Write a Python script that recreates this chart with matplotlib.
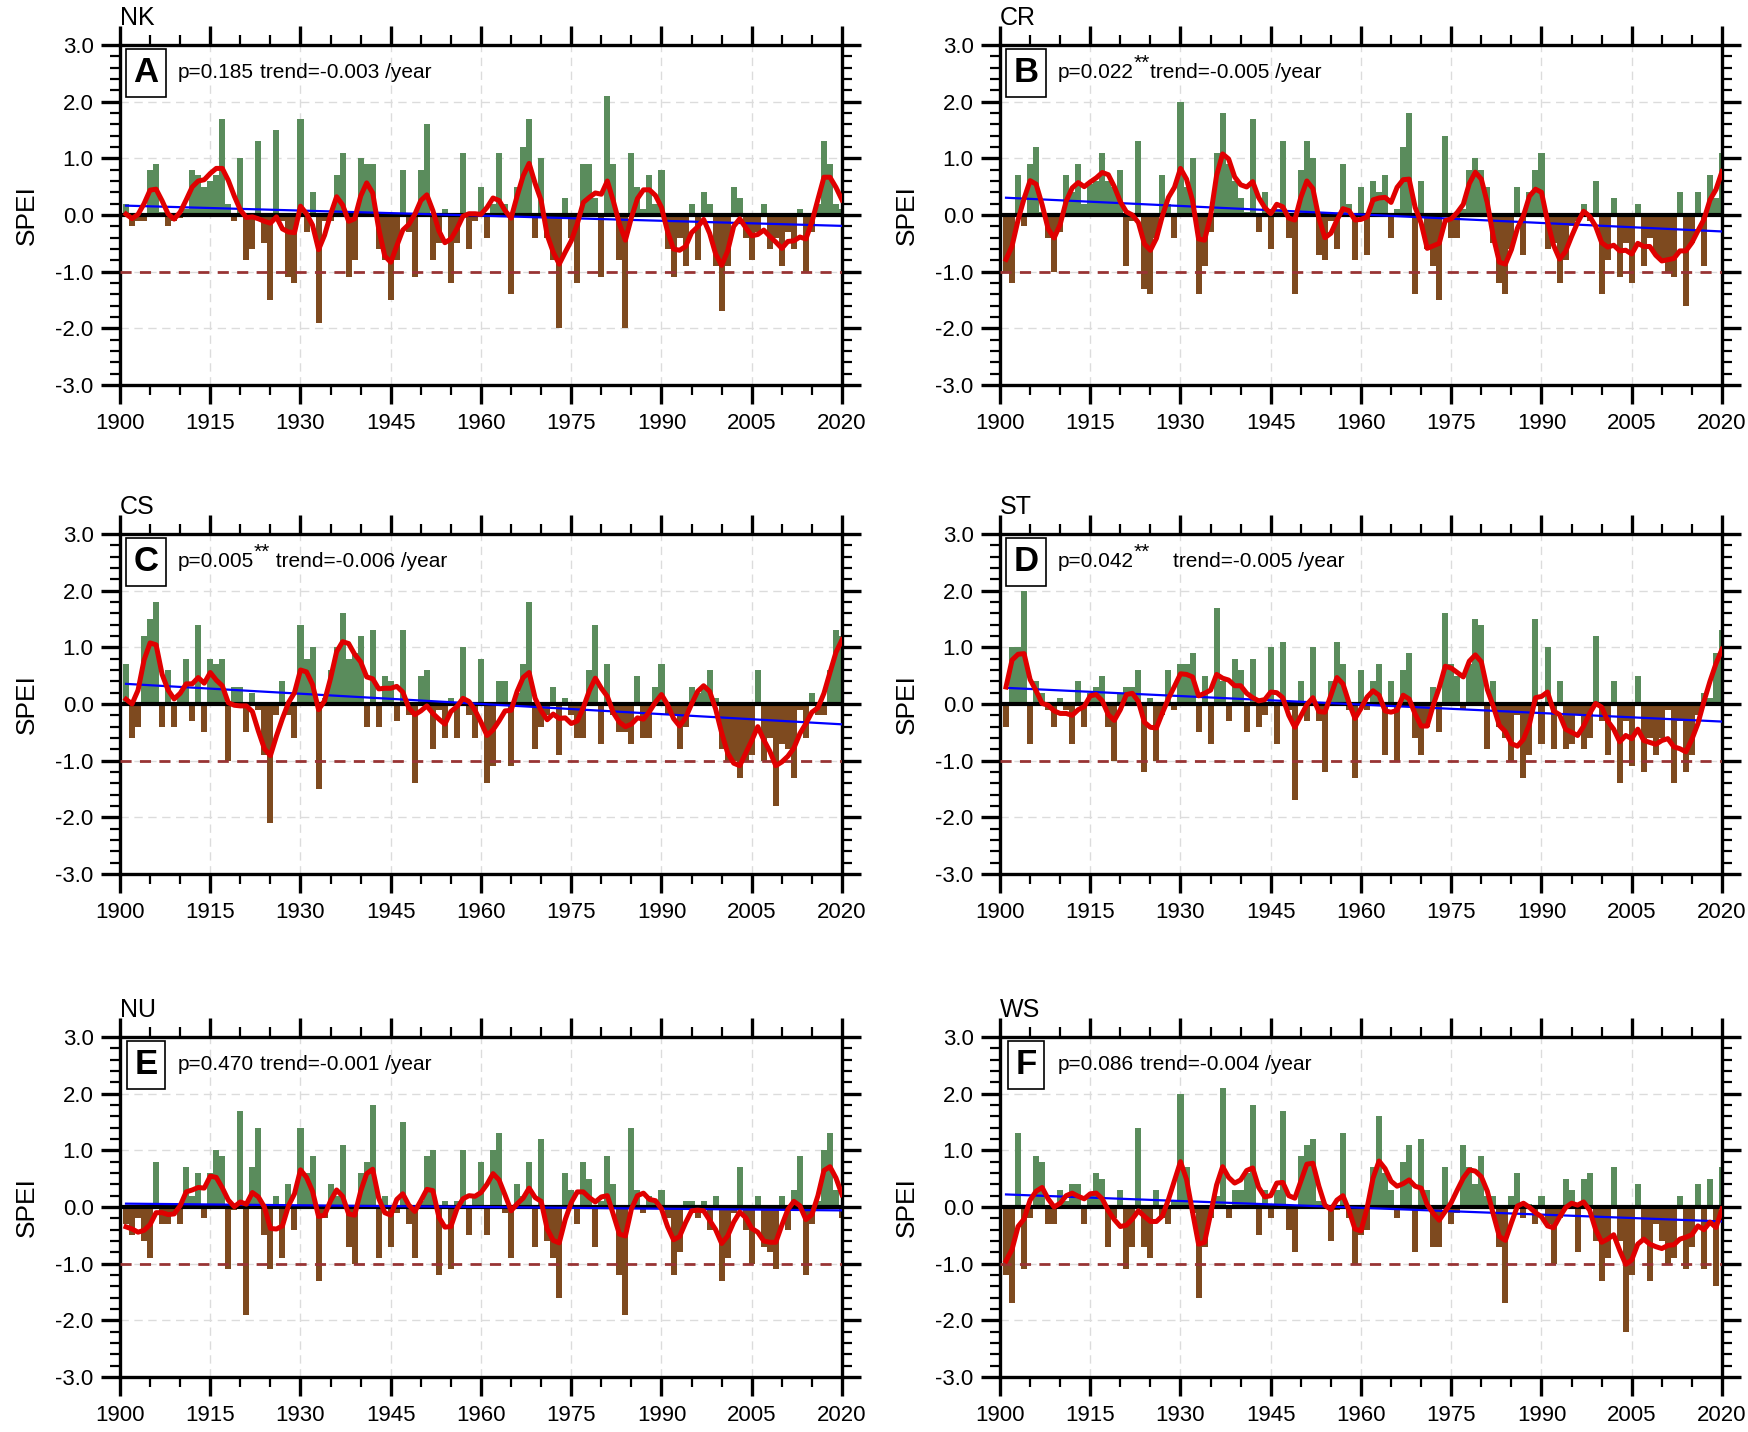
import numpy as np
import matplotlib
matplotlib.use("Agg")
import matplotlib.pyplot as plt
from matplotlib.ticker import FixedLocator, MultipleLocator, FormatStrFormatter

plt.rcParams['font.family'] = ['Liberation Sans', 'DejaVu Sans']

## data, one value per year 1901-2020
years = np.arange(1901, 2021)

spei_nk = [0.2, -0.2, -0.1, -0.1, 0.8, 0.9, 0.05, -0.2, -0.1, -0.05,
           0.1, 0.8, 0.7, 0.5, 0.6, 0.7, 1.7, 0.2, -0.1, 1.0,
           -0.8, -0.6, 1.3, -0.5, -1.5, 1.5, -0.1, -1.1, -1.2, 1.7,
           -0.3, 0.4, -1.9, -0.1, -0.1, 0.7, 1.1, -1.1, -0.8, 1.0,
           0.9, 0.9, -0.6, -0.8, -1.5, -0.8, 0.8, -0.3, -1.1, 0.8,
           1.6, -0.8, -0.5, 0.1, -1.2, -0.5, 1.1, -0.6, -0.1, 0.5,
           -0.4, 0.2, 1.1, 0.2, -1.4, 0.5, 1.2, 1.7, -0.4, 1.0,
           -0.4, -0.8, -2.0, 0.3, -0.4, -1.2, 0.9, 0.9, 0.3, -1.1,
           2.1, 0.9, -0.8, -2.0, 1.1, 0.5, 0.1, 0.7, 0.2, 0.8,
           -0.6, -1.1, -0.4, -0.9, 0.2, -0.8, 0.4, 0.2, -0.9, -1.7,
           -0.9, 0.5, 0.3, -0.4, -0.8, -0.3, 0.2, -0.6, -0.4, -0.9,
           -0.3, -0.6, 0.1, -1.0, -0.3, 0.2, 1.3, 0.9, 0.2, 0.1]

spei_cr = [-1.0, -1.2, 0.7, -0.2, 0.9, 1.2, 0.05, -0.4, -1.0, -0.3,
           0.7, 0.4, 0.9, 0.2, 0.55, 0.6, 1.1, 0.6, 0.5, 0.8,
           -0.9, -0.1, 1.3, -1.3, -1.4, -0.4, 0.7, 0.2, -0.4, 2.0,
           0.5, 1.0, -1.4, -0.9, -0.3, 1.1, 1.8, 0.9, 0.6, 0.3,
           0.05, 1.7, -0.3, 0.4, -0.6, 0.1, 1.3, -0.4, -1.4, 0.8,
           1.3, 1.0, -0.7, -0.8, -0.1, -0.6, 0.9, 0.2, -0.8, 0.5,
           -0.7, 0.6, 0.4, 0.7, -0.4, 0.1, 1.2, 1.8, -1.4, 0.6,
           -0.6, -0.9, -1.5, 1.4, -0.4, -0.4, 0.1, 0.8, 1.0, 0.8,
           0.5, -0.5, -1.2, -1.4, -0.6, 0.5, -0.7, 0.4, 0.8, 1.1,
           -0.6, -0.5, -1.2, -0.8, -0.2, -0.1, 0.2, -0.1, 0.6, -1.4,
           -0.8, 0.3, -1.1, -0.5, -1.2, 0.2, -0.9, -0.4, -0.7, -0.8,
           -1.0, -1.1, 0.4, -1.6, -0.5, 0.4, -0.9, 0.7, 0.3, 1.1]

spei_cs = [0.7, -0.6, -0.4, 1.2, 1.5, 1.8, -0.4, 0.6, -0.4, 0.2,
           0.8, -0.3, 1.4, -0.5, 0.8, 0.7, 0.8, -1.0, 0.3, 0.3,
           -0.5, 0.2, -0.1, -0.9, -2.1, -0.2, 0.4, -0.2, -0.6, 1.4,
           0.8, 1.0, -1.5, 0.1, 0.6, 1.0, 1.6, 0.8, 0.9, 1.2,
           -0.4, 1.3, -0.4, 0.5, 0.4, -0.3, 1.3, -0.2, -1.4, 0.5,
           0.6, -0.8, -0.1, -0.6, 0.1, -0.6, 1.0, -0.2, -0.6, 0.8,
           -1.4, -1.1, 0.4, 0.4, -1.1, 0.2, 0.7, 1.8, -0.8, -0.4,
           -0.2, 0.3, -0.9, 0.1, -0.2, -0.6, -0.6, 0.6, 1.4, -0.7,
           0.7, -0.2, -0.5, -0.5, -0.7, 0.5, -0.6, -0.6, 0.3, 0.7,
           -0.2, -0.2, -0.8, -0.4, 0.3, 0.2, 0.3, 0.6, 0.1, -0.8,
           -1.0, -1.0, -1.3, -1.0, -0.9, 0.6, -1.0, -0.6, -1.8, -0.7,
           -0.8, -1.3, -0.1, -0.6, 0.2, -0.2, -0.2, 0.6, 1.3, 1.2]

spei_st = [-0.4, 1.0, 1.0, 2.0, -0.7, 0.4, 0.2, -0.1, -0.4, 0.1,
           -0.1, -0.7, 0.4, -0.4, 0.2, 0.3, 0.5, -0.4, -1.0, 0.2,
           0.3, 0.3, 0.6, -1.2, 0.1, -1.0, -0.2, 0.6, -0.1, 0.7,
           0.7, 0.9, -0.5, 0.5, -0.7, 1.7, 0.4, -0.3, 0.8, 0.6,
           -0.5, 0.8, -0.4, -0.2, 1.0, -0.7, 1.1, -0.1, -1.7, 0.4,
           -0.3, 1.0, -0.3, -1.2, 0.4, 1.1, 0.7, -0.1, -1.3, 0.6,
           -0.1, 0.4, 0.7, -0.9, 0.4, -1.0, 0.6, 0.9, -0.6, -0.9,
           -0.4, 0.3, -0.5, 1.6, 0.7, 0.5, -0.1, 0.7, 1.5, 1.4,
           -0.8, 0.4, -0.4, -0.6, -1.0, -0.2, -1.3, -0.9, 1.5, -0.7,
           1.0, -0.8, 0.4, -0.8, -0.7, -0.2, -0.8, -0.6, 1.2, -0.3,
           -0.9, 0.4, -1.4, -0.3, -1.1, 0.5, -1.2, -0.6, -0.9, -0.6,
           -0.1, -1.4, -0.3, -1.2, -0.9, -0.2, 0.2, 0.1, 0.9, 1.3]

spei_nu = [-0.3, -0.5, -0.2, -0.6, -0.9, 0.8, -0.3, -0.3, -0.1, -0.3,
           0.7, 0.2, 0.6, -0.2, 0.6, 1.0, 0.9, -1.1, -0.05, 1.7,
           -1.9, 0.7, 1.4, -0.5, -1.1, 0.2, -0.9, 0.4, -0.4, 1.4,
           0.6, 0.9, -1.3, -0.2, 0.4, 0.2, 1.1, -0.7, -1.0, 0.6,
           0.8, 1.8, -0.9, 0.2, -0.7, -0.1, 1.5, -0.3, -0.9, 0.1,
           0.9, 1.0, -1.2, 0.1, -1.1, 0.1, 1.0, -0.5, 0.2, 0.8,
           -0.5, 1.0, 1.3, -0.1, -0.9, 0.4, 0.2, 0.8, -0.7, 1.2,
           -0.6, -0.9, -1.6, 0.6, 0.3, -0.3, 0.8, 0.5, -0.7, 0.1,
           0.9, 0.4, -1.2, -1.9, 1.4, 0.3, -0.1, 0.2, 0.1, 0.3,
           -0.2, -1.2, -0.8, 0.1, 0.1, -0.2, 0.1, -0.4, 0.2, -1.3,
           -0.9, -0.1, 0.7, -0.4, -1.0, 0.2, -0.7, -0.8, -1.1, 0.2,
           -0.4, 0.3, 0.9, -1.2, -0.3, 0.1, 1.0, 1.3, 0.3, -0.2]

spei_ws = [-1.2, -1.7, 1.3, -1.1, -0.2, 0.9, 0.8, -0.3, -0.3, 0.3,
           0.1, 0.4, 0.4, -0.3, 0.2, 0.6, 0.5, -0.7, -0.2, 0.3,
           -1.1, -0.7, 1.4, -0.7, -0.9, 0.3, -0.2, -0.3, 0.1, 2.0,
           0.7, -0.1, -1.6, -0.7, -0.2, 0.2, 2.1, -0.2, 0.3, 0.3,
           0.6, 1.8, -0.5, 0.3, -0.2, 0.3, 1.7, -0.4, -0.8, 0.9,
           1.1, 1.2, 0.1, 0.05, -0.6, -0.05, 1.3, -0.2, -1.0, -0.5,
           -0.4, 0.7, 1.6, 0.6, 0.3, -0.2, 0.8, 1.1, -0.8, 1.2,
           0.3, -0.7, -0.7, 0.7, -0.3, -0.1, 1.1, 0.7, 0.4, 0.9,
           0.2, 0.2, -0.7, -1.7, 0.2, 0.6, -0.2, 0.05, -0.3, 0.2,
           -0.3, -1.0, -0.2, 0.5, 0.3, -0.8, 0.5, 0.6, -0.6, -1.3,
           -0.9, 0.7, -0.6, -2.2, -1.2, 0.4, -0.6, -1.3, -0.3, -0.6,
           -1.0, -0.9, 0.2, -1.1, -0.7, 0.4, -1.1, 0.5, -1.4, 0.7]

region_names = ["NK", "CR", "CS", "ST", "NU", "WS"]
panel_letters = ["A", "B", "C", "D", "E", "F"]
p_texts = ["p=0.185", "p=0.022", "p=0.005", "p=0.042", "p=0.470", "p=0.086"]
significant = [False, True, True, True, False, False]
trend_texts = ["trend=-0.003 /year", "trend=-0.005 /year", " trend=-0.006 /year",
               "    trend=-0.005 /year", "trend=-0.001 /year", "trend=-0.004 /year"]
trend_per_year = [-0.003, -0.005, -0.006, -0.005, -0.001, -0.004]
all_series = [spei_nk, spei_cr, spei_cs, spei_st, spei_nu, spei_ws]

GREEN = "#5a8c5c"
BROWN = "#7e4a1f"
RED = "#e00000"
DRY_LINE = "#983434"


def smooth(values):
    # weighted 1-2-3-2-1 running mean, renormalised at the ends
    w = np.array([1., 2., 3., 2., 1.])
    v = np.asarray(values, dtype=float)
    out = np.zeros_like(v)
    for i in range(len(v)):
        num = 0.0
        den = 0.0
        for k in range(-2, 3):
            j = i + k
            if 0 <= j < len(v):
                num += w[k + 2] * v[j]
                den += w[k + 2]
        out[i] = num / den
    return out


fig = plt.figure(figsize=(17.48, 14.32), dpi=100)
renderer = fig.canvas.get_renderer()

W, H = 1748.0, 1432.0
lefts = [120, 1000]
tops = [45, 534, 1037]
aw, ah = 722, 340

for idx, values in enumerate(all_series):
    row = idx // 2
    col = idx % 2
    ax = fig.add_axes([lefts[col] / W, 1 - (tops[row] + ah) / H, aw / W, ah / H])
    vals = np.asarray(values)

    colors = [GREEN if v >= 0 else BROWN for v in vals]
    ax.bar(years, vals, width=1.0, color=colors, linewidth=0, zorder=2)

    ax.axhline(0, color='black', lw=3, zorder=3)
    ax.axhline(-1, color=DRY_LINE, lw=2, ls=(0, (4, 3)), zorder=3)

    # trend line from the stated slope, through the series mean
    trend = vals.mean() + trend_per_year[idx] * (years - years.mean())
    ax.plot(years, trend, color='#0000ff', lw=1.6, zorder=4)

    ax.plot(years, smooth(vals), color=RED, lw=3.6, zorder=5, solid_joinstyle='round')

    ax.set_xlim(1900, 2020)
    ax.set_ylim(-3, 3)
    ax.xaxis.set_major_locator(FixedLocator(np.arange(1900, 2021, 15)))
    ax.xaxis.set_minor_locator(FixedLocator(np.arange(1900, 2021, 5)))
    ax.yaxis.set_major_locator(MultipleLocator(1))
    ax.yaxis.set_minor_locator(MultipleLocator(0.2))
    ax.yaxis.set_major_formatter(FormatStrFormatter('%.1f'))

    ax.grid(True, which='major', color='#dcdcdc', ls=(0, (6, 4)), lw=1.0, zorder=0)
    ax.set_axisbelow(True)

    ax.tick_params(which='major', direction='out', length=14, width=2.4,
                   top=True, right=True, labelsize=16, pad=5)
    ax.tick_params(which='minor', direction='out', length=7, width=1.6,
                   top=True, right=True)
    ax.tick_params(axis='x', which='major', pad=6)
    for sp in ax.spines.values():
        sp.set_linewidth(2.4)

    ax.set_ylabel("SPEI", fontsize=19, labelpad=12)

    ax.text(0.0, 1.08, region_names[idx], transform=ax.transAxes,
            fontsize=18, ha='left', va='center')
    ax.text(0.036, 0.918, panel_letters[idx], transform=ax.transAxes,
            fontsize=25, fontweight='bold', ha='center', va='center', zorder=6,
            bbox=dict(boxstyle='square,pad=0.22', fc='white', ec='black', lw=1.2))

    # p value, optional raised stars, then the trend text, placed one after another
    t = ax.text(0.08, 0.92, p_texts[idx], transform=ax.transAxes,
                fontsize=15, ha='left', va='center', zorder=6)
    bb = t.get_window_extent(renderer).transformed(ax.transAxes.inverted())
    x_next = bb.x1
    if significant[idx]:
        s = ax.text(x_next, 0.945, "**", transform=ax.transAxes,
                    fontsize=15, ha='left', va='center', zorder=6)
        bb = s.get_window_extent(renderer).transformed(ax.transAxes.inverted())
        x_next = bb.x1
    else:
        x_next = x_next + 0.008
    ax.text(x_next, 0.92, trend_texts[idx], transform=ax.transAxes,
            fontsize=15, ha='left', va='center', zorder=6)

fig.savefig("out.png", dpi=100)
